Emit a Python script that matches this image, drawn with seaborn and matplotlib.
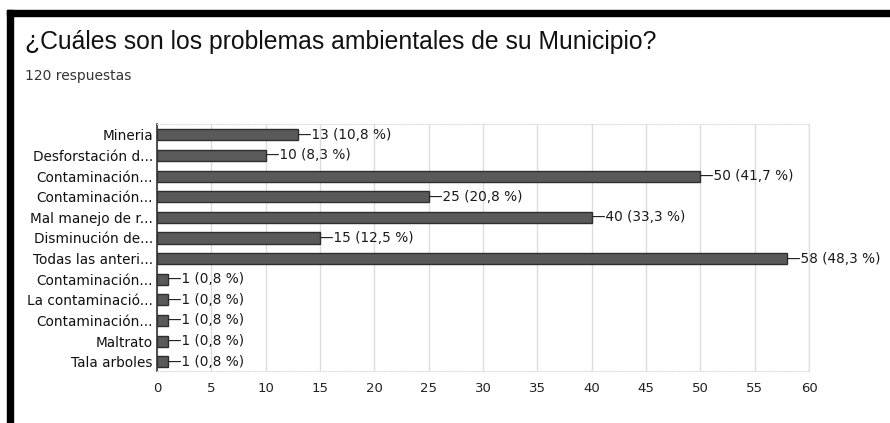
import matplotlib
matplotlib.use("Agg")
import matplotlib.pyplot as plt
import seaborn as sns
import pandas as pd
from matplotlib.patches import Rectangle

# Respuestas de la encuesta
categorias = ["Mineria", "Desforstación d...", "Contaminación...", "Contaminación...",
              "Mal manejo de r...", "Disminución de...", "Todas las anteri...",
              "Contaminación...", "La contaminació...", "Contaminación...",
              "Maltrato", "Tala arboles"]
conteos = [13, 10, 50, 25, 40, 15, 58, 1, 1, 1, 1, 1]
porcentajes = ["10,8", "8,3", "41,7", "20,8", "33,3", "12,5", "48,3",
               "0,8", "0,8", "0,8", "0,8", "0,8"]
ticks_x = [0, 5, 10, 15, 20, 25, 30, 35, 40, 45, 50, 55, 60]

# claves unicas porque hay etiquetas repetidas
claves = [f"c{i}" for i in range(len(categorias))]
df = pd.DataFrame({"clave": claves, "conteo": conteos})

sns.set_style("white")
plt.rcParams["font.family"] = ["DejaVu Sans"]

fig = plt.figure(figsize=(8.9, 4.23), dpi=100)
ax = fig.add_axes([0.1764, 0.123, 0.7326, 0.584])

sns.barplot(data=df, y="clave", x="conteo", orient="h", width=0.54,
            color="#5a5a5a", edgecolor="#2e2e2e", linewidth=1.0,
            saturation=1, ax=ax)

ax.set_xlim(0, 60)
ax.set_ylim(11.45, -0.53)
ax.set_xticks(ticks_x)
ax.set_xticklabels([str(t) for t in ticks_x], fontsize=9.5, color="#222222")
ax.set_yticks(range(len(categorias)))
ax.set_yticklabels(categorias, fontsize=9.8, color="#111111")
ax.tick_params(axis="both", length=0, pad=3)
ax.tick_params(axis="x", pad=8)
ax.set_xlabel("")
ax.set_ylabel("")

ax.xaxis.grid(True, color="#dddddd", linewidth=1)
ax.set_axisbelow(True)
for s in ["top", "bottom", "right"]:
    ax.spines[s].set_color("#dddddd")
    ax.spines[s].set_linestyle(":")
ax.spines["right"].set_linestyle("-")
ax.spines["left"].set_color("#333333")
ax.spines["left"].set_linewidth(1.2)

for i, (c, p) in enumerate(zip(conteos, porcentajes)):
    ax.text(c, i, f"—{c} ({p} %)", va="center", ha="left",
            fontsize=9.8, color="#1a1a1a")

fig.text(0.028, 0.9, "¿Cuáles son los problemas ambientales de su Municipio?",
         fontsize=17.8, color="#111111", va="center", ha="left",
         family="Liberation Sans")
fig.text(0.028, 0.82, "120 respuestas", fontsize=10, color="#333333",
         va="center", ha="left")

# marco negro de la captura
fig.patches.append(Rectangle((7 / 890, 1 - 16 / 423), 1 - 7 / 890, 6 / 423,
                             transform=fig.transFigure, color="black", zorder=10))
fig.patches.append(Rectangle((7 / 890, 0), 6 / 890, 1 - 10 / 423,
                             transform=fig.transFigure, color="black", zorder=10))

fig.savefig("out.png", dpi=100)
